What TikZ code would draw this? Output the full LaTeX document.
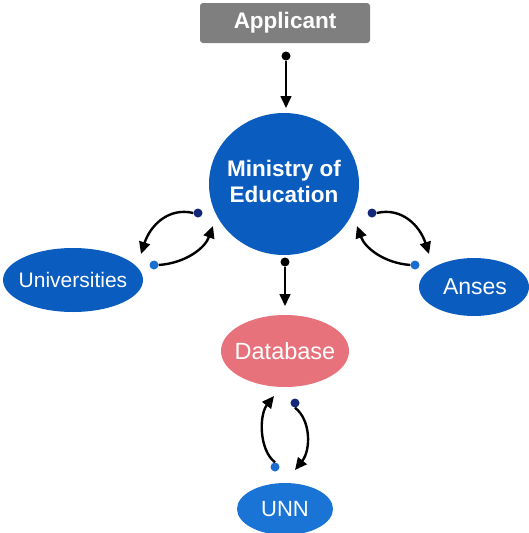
\documentclass[tikz,border=0pt]{standalone}
\usepackage{fontspec}
\setmainfont{Liberation Sans}
\usetikzlibrary{arrows.meta}
\definecolor{moeblue}{HTML}{0B5CBF}
\definecolor{unnblue}{HTML}{1A74D6}
\definecolor{dbpink}{HTML}{E8727B}
\definecolor{appgray}{HTML}{7F7F7F}
\definecolor{navydot}{HTML}{14287A}
\definecolor{bluedot}{HTML}{1A6ED0}
\begin{document}
\begin{tikzpicture}[x=1pt,y=-1pt,
  dotb/.style={circle, fill=black, inner sep=0pt, minimum size=9pt},
  dotn/.style={circle, fill=navydot, inner sep=0pt, minimum size=9pt},
  dotl/.style={circle, fill=bluedot, inner sep=0pt, minimum size=9pt},
  straw/.style={line width=1.6pt, -{Triangle[length=12pt,width=11pt]}},
  curw/.style={line width=2.4pt, -{Triangle[length=12pt,width=11pt]}}
]
\useasboundingbox (0,0) rectangle (529,533);
% nodes
\node[fill=appgray, rounded corners=3pt, minimum width=170pt, minimum height=40pt, inner sep=0pt, text=white, font=\fontsize{22.5}{26}\selectfont\bfseries] (app) at (285,23) {Applicant};
\fill[moeblue] (284,184) ellipse [x radius=75, y radius=71];
\node[align=center, text=white, font=\fontsize{22.5}{26}\selectfont\bfseries] (moe) at (284,181) {Ministry of\\Education};
\fill[moeblue] (73,280) ellipse [x radius=70, y radius=32];
\node[text=white, font=\fontsize{21}{24}\selectfont] (uni) at (73,280) {Universities};
\fill[moeblue] (474,287) ellipse [x radius=55, y radius=29];
\node[text=white, font=\fontsize{23}{26}\selectfont] (anses) at (475,287) {Anses};
\fill[dbpink] (285,351) ellipse [x radius=64, y radius=36];
\node[text=white, font=\fontsize{23.5}{26}\selectfont] (db) at (285,351) {Database};
\fill[unnblue] (285,509) ellipse [x radius=48, y radius=26];
\node[text=white, font=\fontsize{22}{25}\selectfont] (unn) at (285,509) {UNN};
% dots and arrow ends
\node[dotb] (d1) at (286,56) {};
\coordinate (e1) at (286,108);
\node[dotb] (d2) at (285,262) {};
\coordinate (e2) at (285,306);
\node[dotn] (l1) at (198,213) {};
\coordinate (le1) at (141,254);
\node[dotl] (l2) at (154,265) {};
\coordinate (le2) at (213,226);
\node[dotn] (r1) at (372,213) {};
\coordinate (re1) at (429,254);
\node[dotl] (r2) at (415,265) {};
\coordinate (re2) at (357,226);
\node[dotn] (b1) at (295,403) {};
\coordinate (be1) at (295,470);
\node[dotl] (b2) at (275,467) {};
\coordinate (be2) at (274,396);
% connectors
\draw[straw] (d1) -- (e1);
\draw[straw] (d2) -- (e2);
\draw[curw] (l1.west) .. controls (168,207) and (150,226) .. (le1);
\draw[curw] (l2.east) .. controls (186,263) and (205,248) .. (le2);
\draw[curw] (r1.east) .. controls (402,207) and (420,226) .. (re1);
\draw[curw] (r2.west) .. controls (384,263) and (365,248) .. (re2);
\draw[curw] (b1.south) .. controls (311,420) and (311,450) .. (be1);
\draw[curw] (b2.north) .. controls (259,450) and (259,415) .. (be2);
\end{tikzpicture}
\end{document}
